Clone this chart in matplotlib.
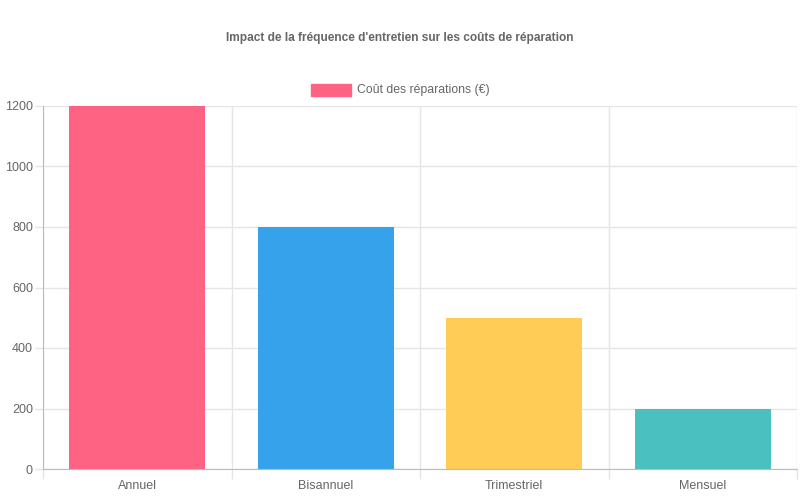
import numpy as np
import matplotlib.pyplot as plt
from matplotlib.patches import Rectangle

categories = ['Annuel', 'Bisannuel', 'Trimestriel', 'Mensuel']
costs = [1200, 800, 500, 200]
colors = ['#FF6384', '#36A2EB', '#FFCD56', '#4BC0C0']
yticks = [0, 200, 400, 600, 800, 1000, 1200]

plt.rcParams['font.family'] = ['Liberation Sans', 'DejaVu Sans']
txt = '#666666'
grid = '#e5e5e5'
px = 0.72  # points per pixel at dpi 100

fig = plt.figure(figsize=(8, 5), dpi=100)
ax = fig.add_axes([43/800, 1 - 469/500, (797 - 43)/800, (469 - 106)/500])

x = np.arange(len(categories))
ax.bar(x, costs, width=0.72, color=colors, zorder=2)

ax.set_xlim(-0.5, len(categories) - 0.5)
ax.set_ylim(0, 1200)
ax.set_yticks(yticks)
ax.set_yticklabels([str(v) for v in yticks])
ax.set_xticks(x)
ax.set_xticklabels(categories)
ax.set_xticks(np.arange(len(categories) + 1) - 0.5, minor=True)

ax.grid(axis='y', color=grid, linewidth=1, zorder=0)
ax.grid(axis='x', which='minor', color=grid, linewidth=1, zorder=0)
ax.tick_params(axis='x', which='major', length=0, pad=11*px, labelsize=9, labelcolor=txt)
ax.tick_params(axis='x', which='minor', length=10*px, color=grid, width=1)
ax.tick_params(axis='y', length=8*px, color=grid, width=1, pad=2*px, labelsize=9, labelcolor=txt)

for s in ['top', 'right']:
    ax.spines[s].set_visible(False)
ax.spines['left'].set_color('#bbbbbb')
ax.spines['bottom'].set_color('#bbbbbb')

fig.text(0.5, 1 - 37.5/500, "Impact de la fréquence d'entretien sur les coûts de réparation",
         ha='center', va='center', fontsize=8.6, fontweight='bold', color=txt)

# legend drawn like Chart.js: box then label
fig.patches.append(Rectangle((311/800, 1 - 96/500), 40/800, 12/500,
                             transform=fig.transFigure, color=colors[0], figure=fig))
fig.text(357/800, 1 - 90.5/500, 'Coût des réparations (€)', ha='left', va='center',
         fontsize=8.8, color=txt)

fig.savefig('out.png', dpi=100)
